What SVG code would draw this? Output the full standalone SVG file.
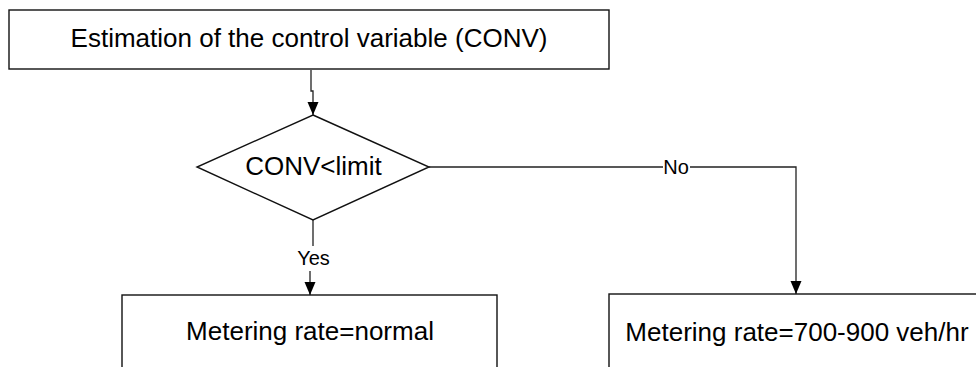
<svg xmlns="http://www.w3.org/2000/svg" width="976" height="367" viewBox="0 0 976 367">
  <style>
    .box { fill: #fff; stroke: #111; stroke-width: 1.4; }
    .lbl { font-family: "Liberation Sans", Arial, sans-serif; font-size: 26px; fill: #000; text-anchor: middle; }
    .elbl { font-family: "Liberation Sans", Arial, sans-serif; font-size: 20px; fill: #000; text-anchor: middle; }
    .conn { fill: none; stroke: #222; stroke-width: 1.3; }
    .bg { fill: #fff; stroke: none; }
  </style>
  <defs>
    <marker id="arrow" markerUnits="userSpaceOnUse" markerWidth="14" markerHeight="12" refX="13" refY="6" orient="auto">
      <path d="M0,0.5 L13,6 L0,11.5 z" fill="#000"/>
    </marker>
  </defs>
  <rect width="976" height="367" fill="#fff"/>

  <g id="connectors">
    <path class="conn" d="M311,70 V91 H313 V115" marker-end="url(#arrow)"/>
    <path class="conn" d="M313,220 V258 H310 V295" marker-end="url(#arrow)"/>
    <rect class="bg" x="294" y="246" width="39" height="25"/>
    <text class="elbl" x="313.5" y="265">Yes</text>
    <path class="conn" d="M429,167 H796 V294" marker-end="url(#arrow)"/>
    <rect class="bg" x="663" y="158" width="27" height="18"/>
    <text class="elbl" x="676" y="174">No</text>
  </g>

  <g id="node-estimation">
    <rect class="box" x="9" y="10" width="600" height="59"/>
    <text class="lbl" x="309" y="47">Estimation of the control variable (CONV)</text>
  </g>

  <g id="node-decision">
    <polygon class="box" points="313,115 429,167 313,220 197,167"/>
    <text class="lbl" x="313.5" y="175">CONV&lt;limit</text>
  </g>

  <g id="node-normal">
    <rect class="box" x="122" y="295" width="375" height="90"/>
    <text class="lbl" x="310" y="340">Metering rate=normal</text>
  </g>

  <g id="node-reduced">
    <rect class="box" x="609" y="294" width="374" height="90"/>
    <text class="lbl" x="797" y="341">Metering rate=700-900 veh/hr</text>
  </g>
</svg>
